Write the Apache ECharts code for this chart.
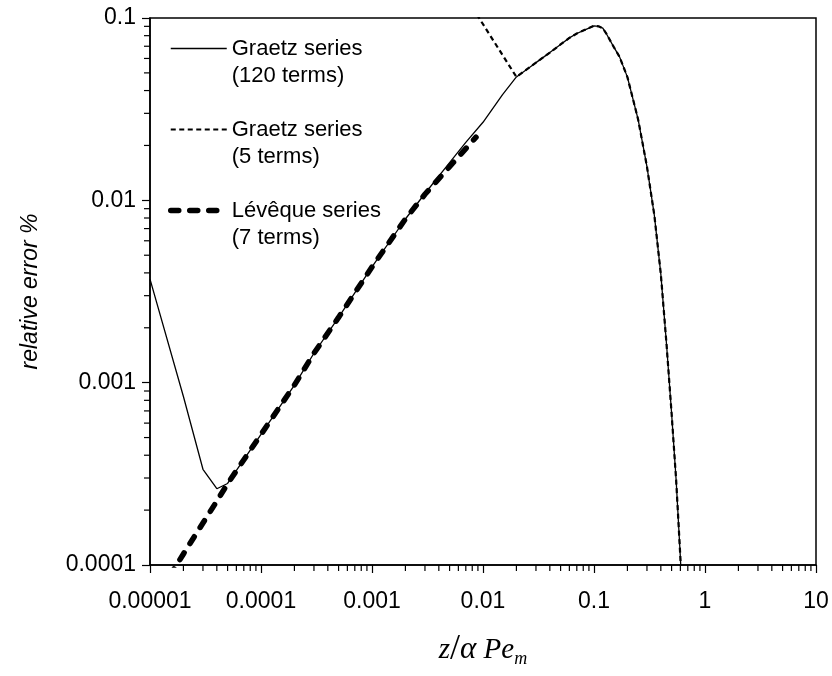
<!DOCTYPE html>
<html>
<head>
<meta charset="utf-8">
<script src="https://cdn.jsdelivr.net/npm/echarts@6/dist/echarts.min.js"></script>
<style>html,body{margin:0;padding:0;background:#fff;}#c{width:832px;height:676px;}</style>
</head>
<body>
<div id="c"></div>
<script>
// ---- data ----
const seriesNames = ['Graetz series\n(120 terms)', 'Graetz series\n(5 terms)', 'Lévêque series\n(7 terms)'];

const graetz120X = [1e-5, 2e-5, 3e-5, 4e-5, 5e-5, 1e-4, 2e-4, 3e-4, 5e-4, 1e-3, 2e-3, 3e-3, 5e-3, 0.007, 0.01, 0.015, 0.02, 0.03, 0.04, 0.05, 0.06, 0.07, 0.08, 0.09, 0.1, 0.11, 0.12, 0.13, 0.15, 0.17, 0.2, 0.25, 0.3, 0.35, 0.4, 0.45, 0.5, 0.55, 0.6, 0.62];
const graetz120Y = [0.0037, 0.00084, 0.000335, 0.000262, 0.00028, 0.00052, 0.00097, 0.00145, 0.00228, 0.00431, 0.0079, 0.0109, 0.0161, 0.0208, 0.0268, 0.038, 0.0475, 0.0569, 0.0646, 0.0716, 0.0778, 0.0822, 0.0853, 0.0881, 0.0906, 0.0900, 0.0879, 0.0815, 0.0697, 0.0612, 0.0474, 0.0277, 0.0153, 0.00824, 0.00394, 0.00163, 0.00068, 0.00029, 0.00011, 0.00007];

const graetz5X = [0.005, 0.02, 0.03, 0.04, 0.05, 0.06, 0.07, 0.08, 0.09, 0.1, 0.11, 0.12, 0.13, 0.15, 0.17, 0.2, 0.25, 0.3, 0.35, 0.4, 0.45, 0.5, 0.55, 0.6, 0.62];
const graetz5Y = [0.18, 0.0475, 0.0569, 0.0646, 0.0716, 0.0778, 0.0822, 0.0853, 0.0881, 0.0906, 0.0900, 0.0879, 0.0815, 0.0697, 0.0612, 0.0474, 0.0277, 0.0153, 0.00824, 0.00394, 0.00163, 0.00068, 0.00029, 0.00011, 0.00007];

const levequeX = [1e-5, 2e-5, 3e-5, 4e-5, 5e-5, 1e-4, 2e-4, 3e-4, 5e-4, 1e-3, 2e-3, 3e-3, 5e-3, 0.00865];
const levequeY = [0.000058, 0.000115, 0.00017, 0.000224, 0.000279, 0.00052, 0.00097, 0.00145, 0.00228, 0.00431, 0.0079, 0.0108, 0.0153, 0.0222];

const xTickValues = [1e-5, 1e-4, 1e-3, 1e-2, 1e-1, 1, 10];
const xTickLabels = ['0.00001', '0.0001', '0.001', '0.01', '0.1', '1', '10'];
const yTickValues = [1e-4, 1e-3, 1e-2, 1e-1];
const yTickLabels = ['0.0001', '0.001', '0.01', '0.1'];

const xMinorTicks = [2e-5,3e-5,4e-5,5e-5,6e-5,7e-5,8e-5,9e-5, 2e-4,3e-4,4e-4,5e-4,6e-4,7e-4,8e-4,9e-4, 2e-3,3e-3,4e-3,5e-3,6e-3,7e-3,8e-3,9e-3, 0.02,0.03,0.04,0.05,0.06,0.07,0.08,0.09, 0.2,0.3,0.4,0.5,0.6,0.7,0.8,0.9, 2,3,4,5,6,7,8,9];
const yMinorTicks = [2e-4,3e-4,4e-4,5e-4,6e-4,7e-4,8e-4,9e-4, 2e-3,3e-3,4e-3,5e-3,6e-3,7e-3,8e-3,9e-3, 0.02,0.03,0.04,0.05,0.06,0.07,0.08,0.09];

// ---- chart ----
const X_MIN = 1e-5, X_MAX = 10, Y_MIN = 1e-4, Y_MAX = 0.1;
const zip = (xs, ys) => xs.map((x, i) => [x, ys[i]]);
const labelFor = (vals, labels) => v => {
  let best = 0, bd = Infinity;
  vals.forEach((t, i) => { const d = Math.abs(Math.log10(t) - Math.log10(v)); if (d < bd) { bd = d; best = i; } });
  return bd < 0.01 ? labels[best] : '';
};
const SANS = "'Liberation Sans', Arial, sans-serif";
const SERIF = "'Liberation Serif', 'Times New Roman', serif";

const styles = [
  { color: '#000', width: 1.3 },
  { color: '#000', width: 2.2, type: [5, 3.5] },
  { color: '#000', width: 5.5, type: [8, 11], cap: 'round' }
];

const chart = echarts.init(document.getElementById('c'), null, { renderer: 'canvas' });
chart.setOption({
  animation: false,
  backgroundColor: '#fff',
  grid: { left: 150, right: 16, top: 18, bottom: 111, show: true, borderColor: '#000', borderWidth: 1.5, backgroundColor: 'transparent' },
  legend: {
    orient: 'vertical', left: 163, top: 3, itemWidth: 56, itemHeight: 10, itemGap: 0,
    data: seriesNames.map((n, i) => ({ name: n, lineStyle: styles[i], itemStyle: { opacity: 0 } })),
    itemStyle: { opacity: 0 },
    formatter: n => '\n' + n,
    textStyle: { fontSize: 22, fontFamily: SANS, color: '#000', lineHeight: 27 }
  },
  xAxis: {
    type: 'log', logBase: 10, min: X_MIN, max: X_MAX, interval: 1,
    axisLine: { show: true, lineStyle: { color: '#000', width: 1.5 } },
    axisTick: { show: true, inside: false, length: 8, lineStyle: { color: '#000', width: 1.2 } },
    axisLabel: { fontSize: 23, fontFamily: SANS, color: '#000', margin: 25, formatter: labelFor(xTickValues, xTickLabels), showMinLabel: true, showMaxLabel: true },
    splitLine: { show: false },
    name: '{i|z}{s|/}{g|α}{i| Pe}{sub|m}',
    nameLocation: 'middle', nameGap: 67,
    nameTextStyle: {
      rich: {
        i: { fontFamily: SERIF, fontStyle: 'italic', fontSize: 29, color: '#000' },
        s: { fontFamily: SERIF, fontSize: 36, color: '#000' },
        g: { fontFamily: SERIF, fontStyle: 'italic', fontSize: 31, color: '#000' },
        sub: { fontFamily: SERIF, fontStyle: 'italic', fontSize: 18, color: '#000', verticalAlign: 'bottom', padding: [12, 0, 0, 0] }
      }
    }
  },
  yAxis: {
    type: 'log', logBase: 10, min: Y_MIN, max: Y_MAX, interval: 1,
    axisLine: { show: true, lineStyle: { color: '#000', width: 1.5 } },
    axisTick: { show: true, inside: false, length: 8, lineStyle: { color: '#000', width: 1.2 } },
    axisLabel: { fontSize: 23, fontFamily: SANS, color: '#000', margin: 14, formatter: labelFor(yTickValues, yTickLabels), showMinLabel: true, showMaxLabel: true },
    splitLine: { show: false },
    name: 'relative error %', nameLocation: 'middle', nameGap: 108,
    nameTextStyle: { fontSize: 23, fontFamily: SANS, fontStyle: 'italic', color: '#000' }
  },
  series: [
    {
      name: seriesNames[0], type: 'line', data: zip(graetz120X, graetz120Y), symbol: 'none', clip: true,
      lineStyle: styles[0], itemStyle: { color: '#000' }, z: 3
    },
    {
      name: seriesNames[1], type: 'line', data: zip(graetz5X, graetz5Y), symbol: 'none', clip: true,
      lineStyle: styles[1], itemStyle: { color: '#000' }, z: 4
    },
    {
      name: seriesNames[2], type: 'line', data: zip(levequeX, levequeY), symbol: 'none', clip: true,
      lineStyle: styles[2], itemStyle: { color: '#000' }, z: 2
    },
    {
      type: 'custom', data: xMinorTicks.map(v => [v, Y_MIN]), clip: false, silent: true, z: 10,
      renderItem: (params, api) => {
        const p = api.coord([api.value(0), api.value(1)]);
        return { type: 'line', shape: { x1: p[0], y1: p[1], x2: p[0], y2: p[1] + 6 }, style: { stroke: '#000', lineWidth: 1.2 } };
      }
    },
    {
      type: 'custom', data: yMinorTicks.map(v => [X_MIN, v]), clip: false, silent: true, z: 10,
      renderItem: (params, api) => {
        const p = api.coord([api.value(0), api.value(1)]);
        return { type: 'line', shape: { x1: p[0], y1: p[1], x2: p[0] - 6, y2: p[1] }, style: { stroke: '#000', lineWidth: 1.2 } };
      }
    }
  ]
});
</script>
</body>
</html>
